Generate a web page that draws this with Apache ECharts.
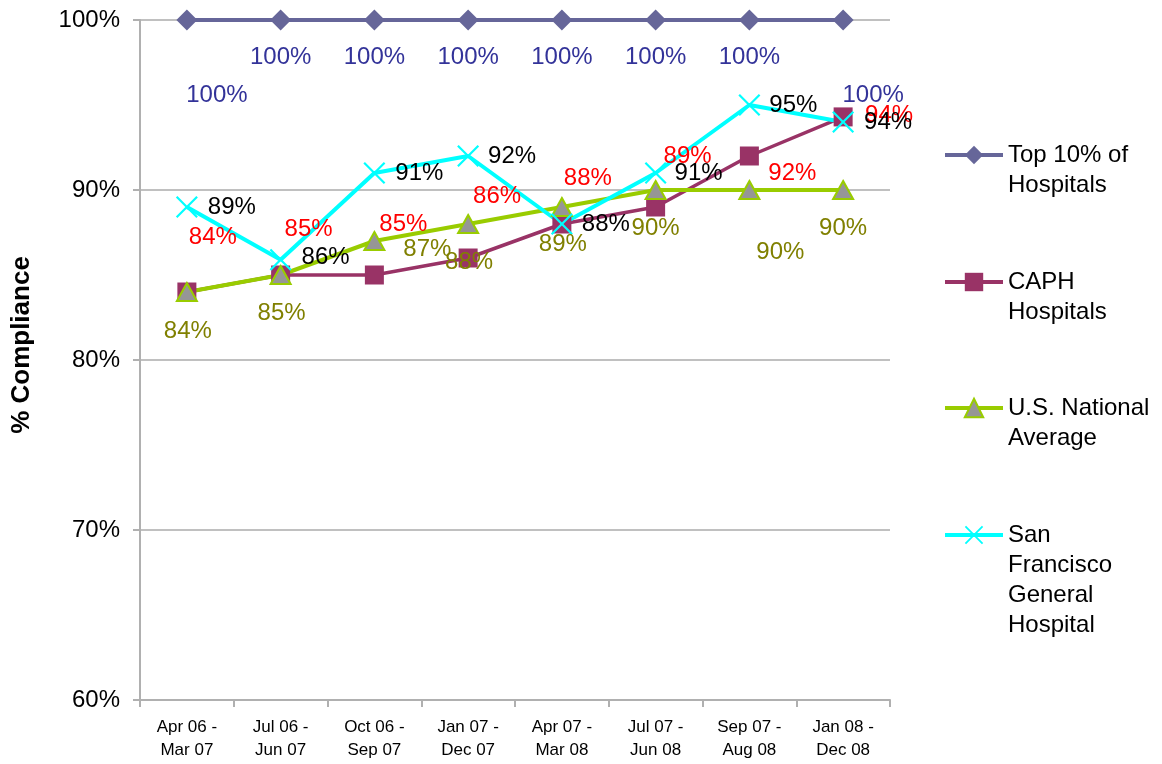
<!DOCTYPE html>
<html>
<head>
<meta charset="utf-8">
<script src="https://cdn.jsdelivr.net/npm/echarts@6/dist/echarts.min.js"></script>
<style>
    html, body { margin: 0; padding: 0; background: #fff; }
    #chart { width: 1162px; height: 764px; }
</style>
</head>
<body>
<div id="chart"></div>
<script>
// data
const periods = ['Apr 06 -\nMar 07', 'Jul 06 -\nJun 07', 'Oct 06 -\nSep 07', 'Jan 07 -\nDec 07',
    'Apr 07 -\nMar 08', 'Jul 07 -\nJun 08', 'Sep 07 -\nAug 08', 'Jan 08 -\nDec 08'];
const seriesNames = ['Top 10% of\nHospitals', 'CAPH\nHospitals', 'U.S. National\nAverage',
    'San\nFrancisco\nGeneral\nHospital'];
const top10 = [100, 100, 100, 100, 100, 100, 100, 100];
const caph = [84, 85, 85, 86, 88, 89, 92, 94.3];
const usAvg = [84, 85, 87, 88, 89, 90, 90, 90];
const sfgh = [89, 85.9, 91, 92, 88, 91, 95, 94];
const yMin = 60, yMax = 100, yStep = 10;

const FONT = '"Liberation Sans", Arial, sans-serif';
const xMark = 'path://M0,0.7L0.7,0L5,4.3L9.3,0L10,0.7L5.7,5L10,9.3L9.3,10L5,5.7L0.7,10L0,9.3L4.3,5Z';

// where each value label sits relative to its marker (the original is a bit messy)
const top10Shift = [[30, 75], [0, 37], [0, 37], [0, 37], [0, 37], [0, 37], [0, 37], [30, 75]];
const caphShift = [[26, -55], [28, -46], [29, -51], [29, -62], [26, -46], [32, -51], [43, 17], [46, -2]];
const usShift = [[1, 39], [1, 38], [53, 8], [1, 38], [1, 37], [0, 38], [31, 62], [0, 38]];
const sfghShift = [[45, 0], [45, -2], [45, 0], [44, 0], [44, 0], [43, 0], [44, 0], [45, 0]];

function withShift(values, shifts) {
    return values.map((v, i) => ({value: v, label: {offset: shifts[i]}}));
}

function valueLabel(color) {
    return {
        show: true,
        position: 'inside',
        color: color,
        fontSize: 24,
        fontFamily: FONT,
        formatter: p => Math.round(p.value) + '%'
    };
}

const myChart = echarts.init(document.getElementById('chart'));

// one legend per entry; blank lines on top keep the icon level with the first text line
const LINE_H = 30;
const legendCenters = [155, 282, 408, 535];
const legends = seriesNames.map((name, i) => {
    const lines = name.split('\n').length;
    return {
        orient: 'vertical',
        left: 943,
        top: legendCenters[i] - (2 * lines - 1) * LINE_H / 2,
        padding: 0,
        itemWidth: 58,
        itemHeight: 23,
        selectedMode: false,
        lineStyle: {width: 4},
        formatter: n => '\n'.repeat(lines - 1) + n,
        textStyle: {color: '#000', fontSize: 24, lineHeight: LINE_H, fontFamily: FONT},
        data: [name]
    };
});

let option = {
    animation: false,
    backgroundColor: '#fff',
    textStyle: {fontFamily: FONT},
    grid: {left: 140, right: 272, top: 20, bottom: 64},
    legend: legends,
    graphic: [{
        type: 'text',
        x: 22,
        y: 345,
        rotation: Math.PI / 2,
        style: {
            text: '% Compliance',
            fill: '#000',
            font: 'bold 26px ' + FONT,
            align: 'center',
            verticalAlign: 'middle'
        }
    }],
    xAxis: {
        type: 'category',
        data: periods,
        boundaryGap: true,
        axisLine: {lineStyle: {color: '#b0b0b0', width: 2}},
        axisTick: {show: true, length: 7, lineStyle: {color: '#b0b0b0', width: 2}},
        axisLabel: {interval: 0, color: '#000', fontSize: 17, lineHeight: 23, margin: 16, fontFamily: FONT}
    },
    yAxis: {
        type: 'value',
        min: yMin,
        max: yMax,
        interval: yStep,
        axisLine: {show: true, lineStyle: {color: '#b0b0b0', width: 2}},
        axisTick: {show: true, length: 7, lineStyle: {color: '#b0b0b0', width: 2}},
        axisLabel: {formatter: '{value}%', color: '#000', fontSize: 24, margin: 20, fontFamily: FONT},
        splitLine: {lineStyle: {color: '#c0c0c0', width: 2}}
    },
    series: [
        {
            name: seriesNames[0],
            type: 'line',
            data: withShift(top10, top10Shift),
            symbol: 'diamond',
            symbolSize: 21,
            color: '#666699',
            lineStyle: {color: '#666699', width: 4},
            itemStyle: {color: '#666699'},
            label: valueLabel('#333399')
        },
        {
            name: seriesNames[1],
            type: 'line',
            data: withShift(caph, caphShift),
            symbol: 'rect',
            symbolSize: 19,
            color: '#993366',
            lineStyle: {color: '#993366', width: 3.5},
            itemStyle: {color: '#993366'},
            label: valueLabel('#ff0000')
        },
        {
            name: seriesNames[2],
            type: 'line',
            data: withShift(usAvg, usShift),
            symbol: 'triangle',
            symbolSize: [20, 18],
            color: '#99cc00',
            lineStyle: {color: '#99cc00', width: 4},
            itemStyle: {color: '#969696', borderColor: '#99cc00', borderWidth: 2},
            label: valueLabel('#808000')
        },
        {
            name: seriesNames[3],
            type: 'line',
            data: withShift(sfgh, sfghShift),
            symbol: xMark,
            symbolSize: 22,
            color: '#00ffff',
            lineStyle: {color: '#00ffff', width: 4},
            itemStyle: {color: '#00ffff'},
            label: valueLabel('#000000')
        }
    ]
};

option && myChart.setOption(option);
</script>
</body>
</html>
